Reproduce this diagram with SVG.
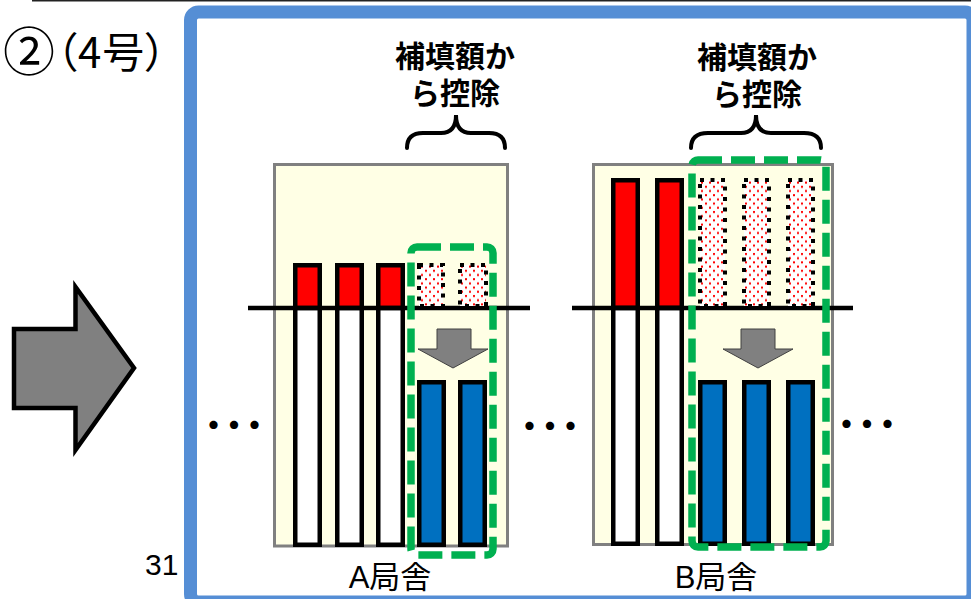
<svg xmlns="http://www.w3.org/2000/svg" width="971" height="599" viewBox="0 0 971 599">
<style>
.jp{font-family:"Noto Sans CJK JP","Liberation Sans",sans-serif;fill:#000}
.lab{font-family:"Liberation Sans","Noto Sans CJK JP",sans-serif;fill:#000}
.panel{fill:#FFFFE5;stroke:#808080;stroke-width:3}
.red{fill:#FF0000;stroke:#000;stroke-width:4.5}
.wht{fill:#FFFFFF;stroke:#000;stroke-width:4.5}
.blu{fill:#0070C0;stroke:#000;stroke-width:4.5}
.dw{fill:#FFFFFF}
.dp{fill:url(#rd);stroke:#000;stroke-width:4;stroke-dasharray:4 6.5}
.grn{fill:none;stroke:#00B050;stroke-width:7.5;stroke-dasharray:24 9}
.base{stroke:#000;stroke-width:4.5}
.brace{fill:none;stroke:#000;stroke-width:4;stroke-linecap:round}
.garr{fill:#808080;stroke:#404040;stroke-width:1}
.dots{font-family:"Noto Sans CJK JP",sans-serif;font-weight:bold;font-size:32px;letter-spacing:-11.5px;fill:#000}
</style>
<defs>
<pattern id="rd" width="8" height="8.4" patternUnits="userSpaceOnUse">
<rect x="1" y="1" width="2" height="2" fill="#FF0000"/>
<rect x="5" y="5.2" width="2" height="2" fill="#FF0000"/>
</pattern>
</defs>
<rect width="971" height="599" fill="#FFFFFF"/>
<line x1="32" y1="0.5" x2="971" y2="0.5" stroke="#222" stroke-width="2"/>
<g id="title">
<text class="jp" font-size="42" x="3" y="68" style="font-feature-settings:'palt'" letter-spacing="1"><tspan font-size="52" dy="3">②</tspan><tspan dy="-3">（4号）</tspan></text>
</g>
<g id="page-number"><text class="lab" font-size="30" x="145" y="575">31</text></g>
<g id="big-arrow">
<polygon points="14,329 75.5,329 75.5,287 134,368 75.5,450 75.5,408 14,408" fill="#808080" stroke="#000" stroke-width="4.5"/>
</g>
<g id="frame">
<rect x="190.5" y="12" width="782.5" height="590" rx="8" fill="#FFFFFF" stroke="#558ED5" stroke-width="13"/>
</g>
<g id="stationA">
<rect class="panel" x="274.5" y="164.5" width="233" height="381.5"/>
<rect class="red" x="295.25" y="265.25" width="24.5" height="43"/>
<rect class="red" x="337.25" y="265.25" width="24.5" height="43"/>
<rect class="red" x="378.25" y="265.25" width="24.5" height="43"/>
<rect class="wht" x="295.25" y="308" width="24.5" height="236.75"/>
<rect class="wht" x="337.25" y="308" width="24.5" height="236.75"/>
<rect class="wht" x="378.25" y="308" width="24.5" height="236.75"/>
<line class="base" x1="248" y1="308" x2="530" y2="308"/>
<rect class="dw" x="419" y="265" width="24" height="41"/>
<rect class="dp" x="419" y="265" width="24" height="41"/>
<rect class="dw" x="460" y="265" width="26" height="41"/>
<rect class="dp" x="460" y="265" width="26" height="41"/>
<polygon class="garr" points="437,329 471,329 471,349 488,349 453,368 418,349 437,349"/>
<rect class="blu" x="419.25" y="382.25" width="24.5" height="162.5"/>
<rect class="blu" x="460.25" y="382.25" width="24.5" height="162.5"/>
<rect class="grn" x="411" y="247" width="82" height="308" rx="6"/>
<path class="brace" d="M407,148 Q407,133 423,133 L441,133 Q456,133 456,115 Q456,133 471,133 L489,133 Q505,133 505,148"/>
<text class="jp" font-size="30" font-weight="bold" text-anchor="middle"><tspan x="455" y="67">補填額か</tspan><tspan x="455" y="104">ら控除</tspan></text>
<text class="lab" font-size="31" text-anchor="middle" x="390" y="588">A局舎</text>
</g>
<g id="stationB">
<rect class="panel" x="593.5" y="164.5" width="239" height="380"/>
<rect class="red" x="613.25" y="180.25" width="24.5" height="127.75"/>
<rect class="red" x="657.25" y="180.25" width="24.5" height="127.75"/>
<rect class="wht" x="613.25" y="308" width="24.5" height="235.75"/>
<rect class="wht" x="657.25" y="308" width="24.5" height="235.75"/>
<line class="base" x1="572" y1="308" x2="853" y2="308"/>
<rect class="dw" x="700" y="180" width="25" height="126"/>
<rect class="dp" x="700" y="180" width="25" height="126"/>
<rect class="dw" x="744" y="180" width="25" height="126"/>
<rect class="dp" x="744" y="180" width="25" height="126"/>
<rect class="dw" x="788" y="180" width="25" height="126"/>
<rect class="dp" x="788" y="180" width="25" height="126"/>
<polygon class="garr" points="741,329 775,329 775,349 793,349 758,368 723,349 741,349"/>
<rect class="blu" x="700.25" y="382.25" width="24.5" height="161.5"/>
<rect class="blu" x="744.25" y="382.25" width="24.5" height="161.5"/>
<rect class="blu" x="788.25" y="382.25" width="24.5" height="161.5"/>
<rect class="grn" x="692" y="160" width="134" height="387" rx="6"/>
<path class="brace" d="M691,148 Q691,133 708,133 L741,133 Q756,133 756,115 Q756,133 771,133 L804,133 Q821,133 821,148"/>
<text class="jp" font-size="30" font-weight="bold" text-anchor="middle"><tspan x="757" y="68">補填額か</tspan><tspan x="757" y="105">ら控除</tspan></text>
<text class="lab" font-size="31" text-anchor="middle" x="716" y="588">B局舎</text>
</g>
<g id="ellipses">
<text class="dots" x="197.5" y="437">・・・</text>
<text class="dots" x="513.5" y="438">・・・</text>
<text class="dots" x="830.5" y="436">・・・</text>
</g>
</svg>
